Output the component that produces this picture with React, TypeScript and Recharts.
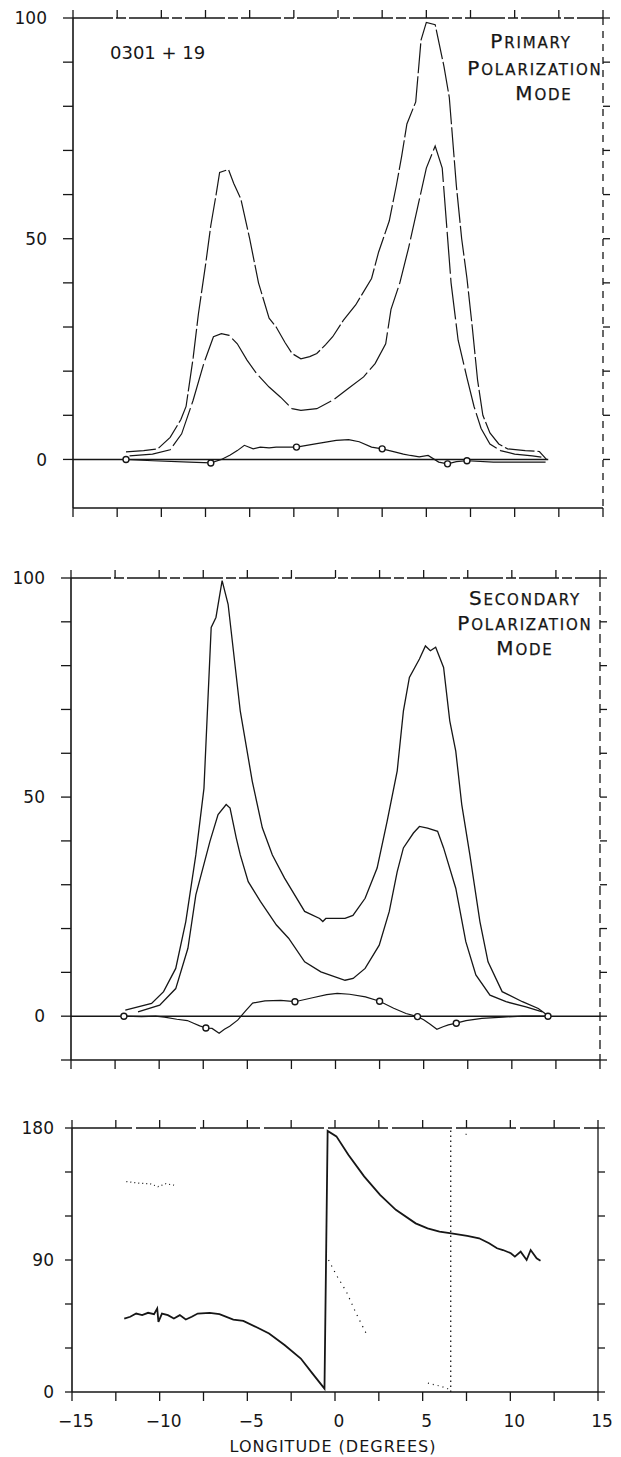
import React from "react";
import { ComposedChart, Line, XAxis, YAxis } from "recharts";

type Pt = [number, number];

// axis ticks (longitude in degrees, every 2.5; labels every 5)
const xTicks = [-15, -12.5, -10, -7.5, -5, -2.5, 0, 2.5, 5, 7.5, 10, 12.5, 15];
const xLabels = [-15, -10, -5, 0, 5, 10, 15];
const p1YTicks = [0, 10, 20, 30, 40, 50, 60, 70, 80, 90, 100];
const p2YTicks = [-10, 0, 10, 20, 30, 40, 50, 60, 70, 80, 90, 100];
const p3YTicks = [0, 30, 60, 90, 120, 150, 180];
const p1YLabels = [0, 50, 100];
const p3YLabels = [0, 90, 180];

// primary polarization mode
const p1Total: Pt[] = [
  [-12.0, 1.7], [-11.0, 2.0], [-10.2, 2.4], [-9.5, 5], [-8.9, 9], [-8.6, 12], [-8.2, 23],
  [-7.9, 33], [-7.5, 44], [-7.2, 53], [-6.9, 60], [-6.7, 65], [-6.2, 65.7], [-5.9, 62.5],
  [-5.5, 59], [-5.0, 50], [-4.5, 40], [-3.9, 32], [-3.5, 30], [-3.0, 26.5], [-2.6, 24],
  [-2.1, 22.8], [-1.6, 23.3], [-1.2, 24], [-0.7, 26], [-0.3, 27.8], [0.3, 31.5], [1.0, 35],
  [1.9, 41], [2.3, 47], [2.9, 54], [3.3, 62], [3.6, 68.6], [3.9, 76], [4.4, 81], [4.7, 95],
  [5.0, 99], [5.5, 98.5], [6.0, 89], [6.3, 82], [6.7, 62], [7.0, 50], [7.3, 41], [7.6, 30],
  [7.9, 18], [8.2, 10], [8.6, 6], [9.1, 3.5], [9.6, 2.4], [10.6, 2.0], [11.4, 1.8], [11.8, 0],
];
const p1Linear: Pt[] = [
  [-11.8, 0.8], [-10.5, 1.2], [-9.5, 2.2], [-8.85, 5.8], [-8.2, 13.4], [-7.6, 21.7],
  [-7.05, 27.8], [-6.6, 28.5], [-6.16, 28.1], [-5.7, 26.2], [-5.15, 22.5], [-4.6, 19.4],
  [-3.9, 16.4], [-3.25, 14.1], [-2.6, 11.5], [-2.1, 11.1], [-1.2, 11.5], [-0.3, 13.4],
  [0.56, 16], [1.45, 18.7], [2.1, 21.7], [2.7, 26.2], [3.0, 34], [3.5, 40], [4.0, 48],
  [4.5, 57], [5.0, 66], [5.5, 71], [5.9, 66], [6.4, 40], [6.8, 27], [7.3, 18.5], [7.7, 12],
  [8.1, 7], [8.6, 3.5], [9.2, 2], [10.0, 1.2], [11.0, 0.8], [11.6, 0.5],
];
const p1Circ: Pt[] = [
  [-12.0, 0], [-10.5, -0.3], [-8.4, -0.6], [-7.2, -0.8], [-6.6, 0], [-6.1, 1.0], [-5.7, 2.0],
  [-5.3, 3.2], [-4.8, 2.4], [-4.4, 2.8], [-3.9, 2.6], [-3.5, 2.8], [-2.35, 2.8], [-1.2, 3.6],
  [-0.1, 4.3], [0.6, 4.5], [1.2, 4.0], [1.9, 2.8], [2.5, 2.4], [3.2, 1.7], [3.7, 1.2],
  [4.1, 0.9], [4.6, 0.6], [5.1, 0.9], [5.7, -0.6], [6.2, -1.0], [6.7, -0.5], [7.3, -0.3],
  [8.8, -0.6], [11.75, -0.6],
];
const p1CircMarks: Pt[] = [[-12.0, 0], [-7.2, -0.8], [-2.35, 2.8], [2.5, 2.4], [6.2, -1.0], [7.3, -0.3]];
const p1Zero: Pt[] = [[-15, 0], [11.9, 0]];

// secondary polarization mode
const p2Total: Pt[] = [
  [-11.92, 1.4], [-10.43, 2.9], [-9.75, 5.6], [-9.06, 10.9], [-8.49, 21.6], [-7.92, 36.8],
  [-7.46, 52], [-7.05, 88.7], [-6.78, 91], [-6.43, 99.4], [-6.09, 94], [-5.4, 69.6],
  [-4.72, 53.6], [-4.15, 43], [-3.58, 36.8], [-2.89, 31.5], [-1.75, 23.9], [-0.9, 22.3],
  [-0.72, 21.6], [-0.55, 22.3], [0.54, 22.3], [0.99, 23], [1.68, 26.9], [2.36, 33.8],
  [2.93, 44.5], [3.5, 56], [3.85, 69.6], [4.19, 77.3], [4.76, 81.5], [5.1, 84.5], [5.38, 83.4],
  [5.68, 84.2], [6.13, 79.6], [6.48, 67.4], [6.82, 60.5], [7.16, 48.3], [7.62, 36.8],
  [8.19, 21.6], [8.65, 12.4], [9.45, 5.6], [10.6, 3.3], [11.5, 1.75], [11.96, 0.4],
];
const p2Linear: Pt[] = [
  [-11.2, 1], [-9.97, 2.5], [-9.06, 6.3], [-8.37, 15.5], [-7.92, 27.7], [-7.12, 39.9],
  [-6.66, 46], [-6.2, 48.3], [-5.98, 47.5], [-5.63, 40.7], [-5.4, 36.8], [-4.95, 30.7],
  [-4.26, 26.2], [-3.35, 20.8], [-2.66, 17.8], [-1.75, 12.4], [-0.83, 10.1], [0.54, 8.2],
  [1.0, 8.6], [1.68, 10.9], [2.48, 16.2], [3.05, 23.9], [3.5, 33], [3.85, 38.4], [4.42, 41.8],
  [4.76, 43.3], [5.22, 42.9], [5.79, 42.2], [6.13, 38.4], [6.82, 29.2], [7.39, 17], [7.96, 9.4],
  [8.76, 4.8], [9.67, 3.3], [10.8, 2.1], [11.73, 1],
];
const p2Circ: Pt[] = [
  [-12.0, 0], [-11.0, -0.1], [-10.2, 0], [-9.7, -0.2], [-9.0, -0.7], [-8.4, -1.0], [-8.05, -1.6],
  [-7.7, -2.2], [-7.35, -2.7], [-7.0, -2.8], [-6.6, -3.9], [-6.3, -3.0], [-6.0, -2.3],
  [-5.55, -0.9], [-5.1, 1.2], [-4.7, 3.0], [-4.0, 3.5], [-3.1, 3.6], [-2.3, 3.3], [-1.3, 4.2],
  [-0.5, 4.9], [0.1, 5.2], [0.8, 5.0], [1.7, 4.4], [2.5, 3.4], [3.3, 1.8], [4.0, 0.6],
  [4.65, -0.1], [5.0, -0.8], [5.35, -1.8], [5.75, -3.0], [6.1, -2.4], [6.4, -2.0], [6.85, -1.6],
  [7.4, -1.0], [8.3, -0.5], [9.5, -0.2], [10.6, 0], [12.05, 0],
];
const p2CircMarks: Pt[] = [[-12.0, 0], [-7.35, -2.7], [-2.3, 3.3], [2.5, 3.4], [4.65, -0.1], [6.85, -1.6], [12.05, 0]];
const p2Zero: Pt[] = [[-15, 0], [15, 0]];

// position angle (degrees)
const p3Solid: Pt[] = [
  [-12.02, 50.1], [-11.68, 51.3], [-11.34, 53.5], [-11.0, 52.4], [-10.66, 54], [-10.32, 53.1],
  [-10.14, 57], [-10.07, 47.8], [-9.87, 53.5], [-9.53, 52.4], [-9.19, 50.1], [-8.85, 52.4],
  [-8.51, 49.4], [-8.17, 51.3], [-7.83, 53.5], [-7.15, 54], [-6.59, 53.1], [-5.8, 49.4],
  [-5.23, 48.5], [-4.44, 44], [-3.76, 39.9], [-2.86, 31.9], [-1.95, 22.8], [-1.28, 12.5],
  [-0.6, 2.3], [-0.42, 178], [0.08, 174.3], [0.76, 161.8], [1.66, 147], [2.57, 134.4],
  [3.47, 124.2], [4.6, 115], [5.28, 111.6], [5.96, 109.4], [6.64, 108.2], [7.54, 106.4],
  [8.22, 104.8], [8.79, 101.4], [9.24, 98], [9.58, 96.8], [10.03, 94.6], [10.26, 92.3],
  [10.59, 95.7], [10.93, 90], [11.16, 96.8], [11.5, 91.1], [11.72, 89.5],
];
const p3DotA: Pt[] = [[-11.9, 143.5], [-11.2, 142.4], [-10.55, 142], [-10.1, 140], [-9.64, 142], [-9.08, 140.8]];
const p3DotB: Pt[] = [[-0.37, 90], [0.08, 79.7], [0.65, 68.4], [1.21, 53.5], [1.78, 39.9]];
const p3DotC: Pt[] = [[5.3, 6], [6.0, 4], [6.4, 2.5], [6.6, 0.5]];
const p3Wrap: Pt[] = [[6.6, 0], [6.6, 180]];
const p3DotD: Pt[] = [[7.45, 175.8], [7.6, 175.2]];

const FONT = "'DejaVu Sans', 'Liberation Sans', Arial, sans-serif";
const INK = "#161616";

const pts = (a: Pt[]) => a.map(([x, y]) => ({ x, y }));
const fmt = (v: number) => (v < 0 ? "\u2212" + Math.abs(v) : String(v));

const Blank = () => <g />;

const XTick = (props: any) => {
  const { x, y, payload } = props;
  if (!xLabels.includes(payload.value)) return <g />;
  return (
    <text x={x + 4} y={y} dy="0.71em" textAnchor="middle" fontFamily={FONT} fontSize={17} fill={INK}>
      {fmt(payload.value)}
    </text>
  );
};

const yTick = (labels: number[]) => (props: any) => {
  const { x, y, payload } = props;
  if (!labels.includes(payload.value)) return <g />;
  return (
    <text x={x} y={y} dy="0.36em" textAnchor="end" fontFamily={FONT} fontSize={17} fill={INK}>
      {payload.value}
    </text>
  );
};

function frame(o: {
  yDomain: [number, number];
  yTicks: number[];
  yLabels: number[];
  xLabels: boolean;
  bottomHeight: number;
  yTickSize: number;
  yTickMargin: number;
  topDash?: string;
  rightDash?: string;
  anchor: Pt[];
}) {
  const line = { stroke: INK, strokeWidth: 1.3 };
  return [
    <XAxis key="xb" xAxisId="b" type="number" dataKey="x" domain={[-15, 15]} ticks={xTicks}
      interval={0} allowDataOverflow orientation="bottom" height={o.bottomHeight} tickSize={9}
      tickMargin={14} tick={o.xLabels ? XTick : Blank} axisLine={{ ...line, strokeWidth: 1.6 }} tickLine={line} />,
    <XAxis key="xt" xAxisId="t" type="number" dataKey="x" domain={[-15, 15]} ticks={xTicks}
      interval={0} allowDataOverflow orientation="top" height={10} tickSize={8} tick={Blank}
      axisLine={{ ...line, strokeDasharray: o.topDash }} tickLine={line} />,
    <YAxis key="yl" yAxisId="l" type="number" domain={o.yDomain} ticks={o.yTicks} interval={0}
      allowDataOverflow orientation="left" width={60} tickSize={o.yTickSize} tickMargin={o.yTickMargin}
      tick={yTick(o.yLabels)} axisLine={{ ...line, strokeWidth: 1.6 }} tickLine={line} />,
    <YAxis key="yr" yAxisId="r" type="number" domain={o.yDomain} ticks={o.yTicks} interval={0}
      allowDataOverflow orientation="right" width={10} tickSize={7} tick={Blank}
      axisLine={{ ...line, strokeDasharray: o.rightDash }} tickLine={line} />,
    <Line key="anchor" xAxisId="t" yAxisId="r" data={pts(o.anchor)} dataKey="y" stroke="none"
      dot={false} isAnimationActive={false} />,
  ];
}

function trace(key: string, data: Pt[], width = 1.3, dash?: string) {
  return (
    <Line key={key} xAxisId="b" yAxisId="l" data={pts(data)} dataKey="y" type="linear"
      stroke={INK} strokeWidth={width} strokeDasharray={dash} dot={false} isAnimationActive={false} />
  );
}

function marks(key: string, data: Pt[]) {
  return (
    <Line key={key} xAxisId="b" yAxisId="l" data={pts(data)} dataKey="y" stroke="none"
      dot={{ r: 3, fill: "#fff", stroke: INK, strokeWidth: 1.4 }} isAnimationActive={false} />
  );
}

function SmallCaps({ x, y, word }: { x: number; y: number; word: string }) {
  return (
    <text x={x} y={y} textAnchor="middle" fontFamily={FONT} fill={INK} letterSpacing={1.8}
      stroke={INK} strokeWidth={0.25}>
      <tspan fontSize={20}>{word[0]}</tspan>
      <tspan fontSize={15}>{word.slice(1)}</tspan>
    </text>
  );
}

export default function App() {
  return (
    <div style={{ position: "absolute", left: 0, top: 0, width: 621, height: 1457, background: "#fff" }}>
      <div style={{ position: "absolute", left: 0, top: 0 }}>
        <ComposedChart width={621} height={530} margin={{ top: 8, right: 8, bottom: 12, left: 13 }}>
          {frame({ yDomain: [-11, 100], yTicks: p1YTicks, yLabels: p1YLabels, xLabels: false,
            bottomHeight: 10, yTickSize: 10, yTickMargin: 16, topDash: "40 3 10 3", rightDash: "7 6", anchor: p1Zero })}
          {trace("z1", p1Zero, 1.4)}
          {trace("tot1", p1Total, 1.2, "30 3")}
          {trace("lin1", p1Linear, 1.2, "42 4")}
          {trace("circ1", p1Circ, 1.2)}
          {marks("m1", p1CircMarks)}
        </ComposedChart>
      </div>
      <div style={{ position: "absolute", left: 0, top: 560 }}>
        <ComposedChart width={621} height={530} margin={{ top: 8, right: 11, bottom: 20, left: 11 }}>
          {frame({ yDomain: [-10, 100], yTicks: p2YTicks, yLabels: p1YLabels, xLabels: false,
            bottomHeight: 10, yTickSize: 10, yTickMargin: 16, topDash: "40 3 10 3", rightDash: "9 5", anchor: p2Zero })}
          {trace("z2", p2Zero, 1.4)}
          {trace("tot2", p2Total, 1.3)}
          {trace("lin2", p2Linear, 1.3)}
          {trace("circ2", p2Circ, 1.2)}
          {marks("m2", p2CircMarks)}
        </ComposedChart>
      </div>
      <div style={{ position: "absolute", left: 0, top: 1110 }}>
        <ComposedChart width={621} height={322} margin={{ top: 8, right: 13, bottom: 0, left: 12 }}>
          {frame({ yDomain: [0, 180], yTicks: p3YTicks, yLabels: p3YLabels, xLabels: true,
            bottomHeight: 40, yTickSize: 7, yTickMargin: 11, topDash: "60 4", anchor: p3Wrap })}
          {trace("pa", p3Solid, 1.8)}
          {trace("dA", p3DotA, 1.2, "1 3")}
          {trace("dB", p3DotB, 1.2, "1.2 5")}
          {trace("dC", p3DotC, 1.2, "1 4")}
          {trace("wrap", p3Wrap, 1.3, "1.5 3.5")}
          {trace("dD", p3DotD, 1.2, "1 6")}
        </ComposedChart>
      </div>
      <svg width={621} height={1457} style={{ position: "absolute", left: 0, top: 0, pointerEvents: "none" }}>
        <text x={110} y={59} fontFamily={FONT} fontSize={18} fill={INK}>0301 + 19</text>
        <SmallCaps x={531} y={48} word="PRIMARY" />
        <SmallCaps x={535} y={75} word="POLARIZATION" />
        <SmallCaps x={544} y={100} word="MODE" />
        <SmallCaps x={525} y={605} word="SECONDARY" />
        <SmallCaps x={525} y={630} word="POLARIZATION" />
        <SmallCaps x={525} y={655} word="MODE" />
        <text x={333} y={1452} textAnchor="middle" fontFamily={FONT} fontSize={16} fill={INK} letterSpacing={1}>
          LONGITUDE (DEGREES)
        </text>
      </svg>
    </div>
  );
}
